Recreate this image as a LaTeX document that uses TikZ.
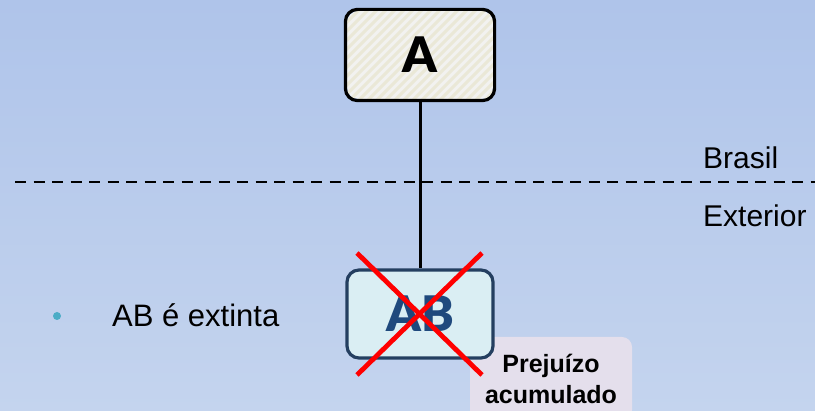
\documentclass[tikz,border=0pt]{standalone}
\usepackage{fontspec}
\setmainfont{Liberation Sans}
\newfontfamily\heavyfont{Lato Black}
\definecolor{bgtop}{RGB}{175,196,234}
\definecolor{bgbot}{RGB}{196,212,238}
\definecolor{boxgray}{RGB}{242,242,240}
\definecolor{stripe}{RGB}{234,232,215}
\definecolor{abfill}{RGB}{218,238,243}
\definecolor{abline}{RGB}{36,63,96}
\definecolor{abtext}{RGB}{31,73,125}
\definecolor{pjfill}{RGB}{228,223,236}
\definecolor{dotteal}{RGB}{75,172,198}
\tikzset{
  entity/.style={rounded corners=12pt, line width=3.2pt,
    minimum width=146pt, minimum height=88pt, inner sep=0pt,
    font=\heavyfont\fontsize{49}{56}\selectfont},
  lossbox/.style={rounded corners=10pt, fill=pjfill, inner sep=0pt,
    minimum width=162pt, minimum height=83pt, align=center,
    font=\bfseries\fontsize{25}{31}\selectfont},
  sidelabel/.style={anchor=base west, inner sep=0pt, font=\fontsize{30}{36}\selectfont},
  frontier/.style={dash pattern=on 11pt off 7.5pt, line width=2.6pt},
  link/.style={line width=3pt},
  cross/.style={red, line width=4.8pt}
}
\begin{document}
\begin{tikzpicture}[x=1pt,y=-1pt]
  % background
  \shade[top color=bgtop, bottom color=bgbot] (0,0) rectangle (815,411);
  \useasboundingbox (0,0) rectangle (815,411);

  % country border
  \coordinate (bl) at (15,182);
  \coordinate (br) at (815,182);
  \draw[frontier] (bl) -- (br);
  \node[sidelabel] (brasil) at (703,169) {Brasil};
  \node[sidelabel] (exterior) at (703,227) {Exterior};

  % parent company, hatched
  \node[entity, fill=boxgray] (A) at (420,55) {};
  \begin{scope}
    \clip[rounded corners=12pt] (A.north west) rectangle (A.south east);
    \foreach \s in {250,259,...,500}
      \draw[stripe, line width=3pt] (\s,110) -- ++(110,-110);
  \end{scope}
  \draw[line width=3.2pt, rounded corners=12pt] (A.north west) rectangle (A.south east);
  \node[inner sep=0pt, font=\heavyfont\fontsize{49}{56}\selectfont] (Atext) at (A.center) {A};

  % foreign subsidiary
  \node[lossbox] (loss) at (551,378.5) {Prejuízo\\acumulado};
  \node[entity, draw=abline, fill=abfill, text=abtext] (AB) at (420,314) {AB};

  \draw[link] (A.south) -- (AB.north);

  % extinction mark
  \coordinate (x1) at (357,253);
  \coordinate (x2) at (482,375);
  \coordinate (x3) at (482,253);
  \coordinate (x4) at (357,375);
  \draw[cross] (x1) -- (x2);
  \draw[cross] (x3) -- (x4);

  % bullet note
  \fill[dotteal] (57,316) circle (4pt);
  \node[sidelabel, font=\fontsize{31}{37}\selectfont] (note) at (112,327) {AB é extinta};
\end{tikzpicture}
\end{document}
